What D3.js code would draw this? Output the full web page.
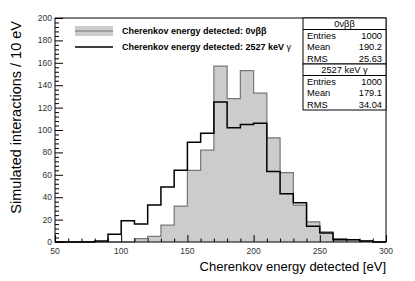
<!DOCTYPE html>
<html>
<head>
<meta charset="utf-8">
<script src="https://cdn.jsdelivr.net/npm/d3@7"></script>
<style>
  body { margin: 0; background: #fff; }
  svg { display: block; font-family: "Liberation Sans", Arial, sans-serif; }
</style>
</head>
<body>
<div id="chart"></div>
<script>
// bin low edges: 50 .. 290, 10 eV wide
var binStart = 50;
var binWidth = 10;
// 0vbb counts per bin
var signalCounts = [0, 0, 0, 0, 0, 0, 3, 5, 15, 32, 64, 82, 157, 128, 153, 133, 93, 62, 33, 18, 9, 3, 2, 1, 0];
// 2527 keV gamma counts per bin
var gammaCounts = [0, 0, 0, 1, 7, 19, 16, 33, 49, 64, 89, 97, 125, 102, 105, 106, 63, 43, 35, 14, 8, 2, 2, 1, 0];

var xTicks = [50, 100, 150, 200, 250, 300];
var yTicks = [0, 20, 40, 60, 80, 100, 120, 140, 160, 180, 200];

var legendLabels = ["Cherenkov energy detected: 0\u03bd\u03b2\u03b2", "Cherenkov energy detected: 2527 keV "];
var statsTitles = ["0\u03bd\u03b2\u03b2", "2527 keV \u03b3"];
var statsNames = ["Entries", "Mean", "RMS"];
var signalStats = ["1000", "190.2", "25.63"];
var gammaStats = ["1000", "179.1", "34.04"];

var w = 415;
var h = 281;
var margin = { top: 18, right: 29, bottom: 39, left: 55 };

var svg = d3.select("#chart").append("svg")
  .attr("width", w)
  .attr("height", h);

var x = d3.scaleLinear().domain([50, 300]).range([margin.left, w - margin.right]);
var y = d3.scaleLinear().domain([0, 200]).range([h - margin.bottom, margin.top]);

// turn counts into step points
function toPoints(counts) {
  var pts = counts.map(function(c, i) { return [binStart + i * binWidth, c]; });
  pts.push([binStart + counts.length * binWidth, counts[counts.length - 1]]);
  return pts;
}

var area = d3.area()
  .curve(d3.curveStepAfter)
  .x(function(d) { return x(d[0]); })
  .y0(y(0))
  .y1(function(d) { return y(d[1]); });

var line = d3.line()
  .curve(d3.curveStepAfter)
  .x(function(d) { return x(d[0]); })
  .y(function(d) { return y(d[1]); });

// gray filled histogram
svg.append("path")
  .datum(toPoints(signalCounts))
  .attr("fill", "#cccccc")
  .attr("stroke", "none")
  .attr("d", area);

svg.append("path")
  .datum(toPoints(signalCounts))
  .attr("fill", "none")
  .attr("stroke", "#777")
  .attr("stroke-width", 1.2)
  .attr("d", line);

// black outline histogram
svg.append("path")
  .datum(toPoints(gammaCounts))
  .attr("fill", "none")
  .attr("stroke", "#000")
  .attr("stroke-width", 1.5)
  .attr("d", line);

// x axis, ticks inside frame
var xAxis = d3.axisTop(x).tickValues(d3.range(50, 301, 10)).tickSize(3.5).tickFormat("");
var gx = svg.append("g")
  .attr("transform", "translate(0," + y(0) + ")")
  .call(xAxis);
gx.selectAll(".tick line").filter(function(d) { return d % 50 === 0; }).attr("y2", -7);
gx.select(".domain").remove();

svg.selectAll(".xlab")
  .data(xTicks)
  .enter().append("text")
  .attr("class", "xlab")
  .attr("x", function(d) { return x(d); })
  .attr("y", y(0) + 12)
  .attr("text-anchor", "middle")
  .attr("fill", "#333")
  .style("font-size", "8.5px")
  .text(function(d) { return d; });

// y axis, ticks inside frame
var yAxis = d3.axisRight(y).tickValues(d3.range(0, 201, 4)).tickSize(4).tickFormat("");
var gy = svg.append("g")
  .attr("transform", "translate(" + x(50) + ",0)")
  .call(yAxis);
gy.selectAll(".tick line").filter(function(d) { return d % 20 === 0; }).attr("x2", 8);
gy.select(".domain").remove();

svg.selectAll(".ylab")
  .data(yTicks)
  .enter().append("text")
  .attr("class", "ylab")
  .attr("x", x(50) - 3)
  .attr("y", function(d) { return y(d) + 3; })
  .attr("text-anchor", "end")
  .attr("fill", "#333")
  .style("font-size", "8.5px")
  .text(function(d) { return d; });

// frame
svg.append("rect")
  .attr("x", x(50))
  .attr("y", y(200))
  .attr("width", x(300) - x(50))
  .attr("height", y(0) - y(200))
  .attr("fill", "none")
  .attr("stroke", "#000")
  .attr("stroke-width", 1);

// axis titles
svg.append("text")
  .attr("x", x(300))
  .attr("y", 271)
  .attr("text-anchor", "end")
  .style("font-size", "13px")
  .text("Cherenkov energy detected [eV]");

svg.append("text")
  .attr("transform", "translate(21,21) rotate(-90)")
  .attr("text-anchor", "end")
  .style("font-size", "14.5px")
  .text("Simulated interactions / 10 eV");

// legend
var lg = svg.append("g");
lg.append("rect")
  .attr("x", 75).attr("y", 26)
  .attr("width", 38).attr("height", 10)
  .attr("fill", "#cccccc");
lg.append("line")
  .attr("x1", 75).attr("x2", 113)
  .attr("y1", 31).attr("y2", 31)
  .attr("stroke", "#777").attr("stroke-width", 1.2);
lg.append("line")
  .attr("x1", 75).attr("x2", 113)
  .attr("y1", 47).attr("y2", 47)
  .attr("stroke", "#000").attr("stroke-width", 1.5);
lg.append("text")
  .attr("x", 122).attr("y", 34)
  .style("font-size", "9px").style("font-weight", "bold")
  .text(legendLabels[0]);
var t2 = lg.append("text")
  .attr("x", 122).attr("y", 50)
  .style("font-size", "9px").style("font-weight", "bold")
  .text(legendLabels[1]);
t2.append("tspan").style("font-weight", "normal").text("\u03b3");

// stats boxes
function statsBox(top, title, values) {
  var bx = 303, bw = x(300) - 303, rowH = 11.5;
  var g = svg.append("g");
  g.append("rect")
    .attr("x", bx).attr("y", top)
    .attr("width", bw).attr("height", rowH * 4)
    .attr("fill", "#fff").attr("stroke", "#000");
  g.append("line")
    .attr("x1", bx).attr("x2", bx + bw)
    .attr("y1", top + rowH).attr("y2", top + rowH)
    .attr("stroke", "#000");
  g.append("text")
    .attr("x", bx + bw / 2).attr("y", top + rowH - 2.3)
    .attr("text-anchor", "middle")
    .style("font-size", "9.3px")
    .text(title);
  statsNames.forEach(function(n, i) {
    g.append("text")
      .attr("x", bx + 4).attr("y", top + rowH * (i + 2) - 2.3)
      .style("font-size", "9.3px")
      .text(n);
    g.append("text")
      .attr("x", bx + bw - 4).attr("y", top + rowH * (i + 2) - 2.3)
      .attr("text-anchor", "end")
      .style("font-size", "9.3px")
      .text(values[i]);
  });
}
statsBox(18, statsTitles[0], signalStats);
statsBox(64, statsTitles[1], gammaStats);
</script>
</body>
</html>
